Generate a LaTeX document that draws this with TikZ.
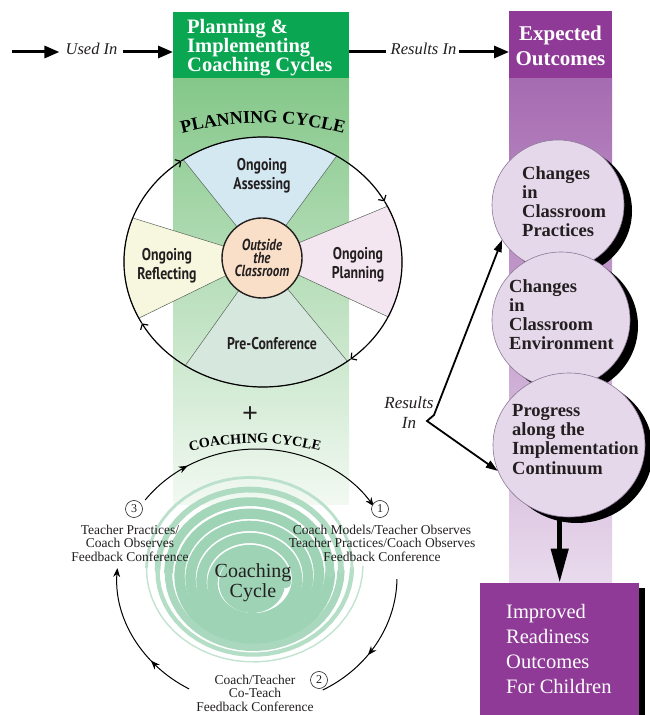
\documentclass[tikz,border=0pt]{standalone}
\usepackage{fontspec}
\setmainfont{Liberation Serif}
\newfontfamily\cond[FakeStretch=0.81]{PT Sans}
\usetikzlibrary{arrows.meta,decorations.text,decorations.markings,shapes.geometric,calc}
\definecolor{gdark}{RGB}{10,166,82}
\definecolor{gtop}{RGB}{132,199,137}
\definecolor{gbot}{RGB}{242,249,242}
\definecolor{pdark}{RGB}{142,58,150}
\definecolor{ptop}{RGB}{166,107,177}
\definecolor{pbot}{RGB}{233,219,237}
\definecolor{lav}{RGB}{230,216,235}
\definecolor{pline}{RGB}{140,120,150}
\definecolor{cassess}{RGB}{212,232,242}
\definecolor{cplan}{RGB}{243,230,240}
\definecolor{cprecon}{RGB}{214,232,222}
\definecolor{creflect}{RGB}{247,246,222}
\definecolor{cinner}{RGB}{249,223,200}
\definecolor{spir}{RGB}{158,211,182}
\definecolor{txt}{RGB}{35,31,32}
\definecolor{wline}{RGB}{90,100,90}
\newcommand\pcfont{\fontsize{18}{18}\selectfont\bfseries}
\newcommand\ccfont{\fontsize{14}{14}\selectfont\bfseries}
\begin{document}
\begin{tikzpicture}[x=1pt,y=1pt,
  bigarr/.style={line width=3pt,-{Triangle[length=15pt,width=12pt]}},
  medarr/.style={line width=1.8pt},
  pcarc/.style={line width=1.2pt,-{Straight Barb[length=4pt,width=9pt]}},
  ccarc/.style={line width=1pt},
  wtxt/.style={align=center,text=txt,inner sep=0,font={\cond\fontsize{17}{19}\selectfont\bfseries}},
  cctxt/.style={align=center,text=txt,inner sep=0,font={\fontsize{13.5}{13.5}\selectfont}},
  pcirc/.style={ellipse,fill=lav,draw=pline,line width=0.6pt,inner sep=0},
  ctxt/.style={anchor=north west,align=left,text=txt,inner sep=0,font={\fontsize{18.5}{19.3}\selectfont\bfseries}},
  numc/.style={circle,draw=txt,line width=0.6pt,fill=white,minimum size=17pt,inner sep=0,text=txt,font={\fontsize{12}{12}\selectfont}},
  hdr/.style={inner sep=0,text=white}
]
\useasboundingbox (0,0) rectangle (649,715);

% ---------- columns ----------
\shade[top color=gtop,bottom color=gbot] (173,210) rectangle (349,637.5);
\node[fill=gdark,anchor=south west,minimum width=176pt,minimum height=66pt,inner sep=0] (ghead) at (173,637) {};
\node[hdr,anchor=north west,align=left,font={\fontsize{20.5}{19}\selectfont\bfseries}] (gtext) at (187,696) {Planning \&\\Implementing\\Coaching Cycles};

\shade[top color=ptop,bottom color=pbot] (509,132) rectangle (612,637.5);
\node[fill=pdark,anchor=south west,minimum width=103pt,minimum height=67pt,inner sep=0] (phead) at (509,637) {};
\node[hdr,anchor=north,align=center,font={\fontsize{21}{25}\selectfont\bfseries}] (ptext) at (560.5,689) {Expected\\Outcomes};

% ---------- top arrows ----------
\coordinate (startL) at (12,663);
\node[inner sep=0,anchor=base,text=txt,font={\fontsize{16.5}{16.5}\selectfont\itshape}] (usedin) at (91.5,660) {Used In};
\node[inner sep=0,anchor=base,text=txt,font={\fontsize{16.5}{16.5}\selectfont\itshape}] (resin) at (423.5,660) {Results In};
\draw[bigarr,shorten >=6pt] (startL) -- (startL -| usedin.west);
\draw[bigarr,shorten <=5pt] (startL -| usedin.east) -- (startL -| ghead.west);
\draw[line width=3pt,shorten >=5pt] (startL -| ghead.east) -- (startL -| resin.west);
\draw[bigarr,shorten <=3pt] (startL -| resin.east) -- (startL -| phead.west);

% ---------- planning cycle ----------
\coordinate (pc) at (263,453);
\coordinate (ic) at (262,457);
\filldraw[fill=cassess,draw=wline,line width=0.5pt] (ic) -- ($(pc)+(58:139 and 125)$) arc[start angle=58,end angle=125,x radius=139,y radius=125] -- cycle;
\filldraw[fill=cplan,draw=wline,line width=0.5pt] (ic) -- ($(pc)+(-26:139 and 125)$) arc[start angle=-26,end angle=26.5,x radius=139,y radius=125] -- cycle;
\filldraw[fill=cprecon,draw=wline,line width=0.5pt] (ic) -- ($(pc)+(-124:139 and 125)$) arc[start angle=-124,end angle=-52.6,x radius=139,y radius=125] -- cycle;
\filldraw[fill=creflect,draw=wline,line width=0.5pt] (ic) -- ($(pc)+(159.4:139 and 125)$) arc[start angle=159.4,end angle=206.7,x radius=139,y radius=125] -- cycle;

\draw[pcarc] ($(pc)+(209.4:139 and 125)$) arc[start angle=209.4,end angle=126,x radius=139,y radius=125];
\draw[pcarc] ($(pc)+(126:139 and 125)$) arc[start angle=126,end angle=29,x radius=139,y radius=125];
\draw[pcarc] ($(pc)+(29:139 and 125)$) arc[start angle=29,end angle=-51,x radius=139,y radius=125];
\draw[pcarc] ($(pc)+(-51:139 and 125)$) arc[start angle=-51,end angle=-150.6,x radius=139,y radius=125];

\node[circle,draw=txt,line width=1.4pt,fill=cinner,minimum size=80pt,inner sep=0,align=center,text=txt,
      font={\cond\fontsize{16}{13}\selectfont\bfseries\itshape}] (inner) at (ic) {Outside\\the\\Classroom};
\node[wtxt] (assess) at (262,539) {Ongoing\\Assessing};
\node[wtxt] (reflect) at (167,449.5) {Ongoing\\Reflecting};
\node[wtxt] (plan) at (358,450) {Ongoing\\Planning};
\node[wtxt] (precon) at (272,371.5) {Pre-Conference};

\path[decorate,decoration={text along path,text align=center,text={|\pcfont|PLANNING CYCLE}}]
  ($(263,279)+(118:313)$) arc[start angle=118,end angle=62,radius=313];

% ---------- coaching cycle ----------
\node[inner sep=0,text=txt,font={\fontsize{28}{28}\selectfont\bfseries}] (plus) at (250,300) {+};
\path[decorate,decoration={text along path,text align=center,text={|\ccfont|COACHING CYCLE}}]
  ($(255,8)+(120:264)$) arc[start angle=120,end angle=60,radius=264];

\fill[spir] (252,132) ellipse[x radius=33,y radius=30];
\foreach \i in {0,...,13}{
  \pgfmathsetmacro\wd{\i<8 ? 10.3 : max(1.4,10.3-1.5*(\i-7))}
  \pgfmathsetmacro\ca{\i*180}
  \pgfmathsetmacro\cb{(\i+1)*180}
  \pgfmathtruncatemacro\cc{\i<8 ? 100 : 100-6*(\i-7)}
  \draw[spir!\cc!white,line width=\wd pt,line cap=round] plot[domain=\ca:\cb,samples=30,variable=\t]
    ({252+(34+\t/360*11)*cos(\t)},{132+\t/360*2.42+0.88*(34+\t/360*11)*sin(\t)});
}
\node[align=center,inner sep=0,text=txt,font={\fontsize{20}{20}\selectfont}] (cctitle) at (253,132.5) {Coaching\\Cycle};

\coordinate (cc) at (257,138);
\draw[ccarc,-{Stealth[length=9pt,width=7pt]},postaction={decorate},
  decoration={markings,mark=at position 0.21 with {\arrow{Stealth[length=9pt,width=7pt]}}}]
  ($(cc)+(143:140 and 128)$) arc[start angle=143,end angle=33.5,x radius=140,y radius=128];
\draw[ccarc,postaction={decorate},
  decoration={markings,mark=at position 0.59 with {\arrow{Stealth[length=9pt,width=7pt]}}}]
  ($(cc)+(-1:140 and 128)$) arc[start angle=-1,end angle=-62,x radius=140,y radius=128];
\draw[ccarc,-{Stealth[length=9pt,width=7pt]},postaction={decorate},
  decoration={markings,mark=at position 0.32 with {\arrow{Stealth[length=9pt,width=7pt]}}}]
  ($(cc)+(241:140 and 128)$) arc[start angle=241,end angle=176,x radius=140,y radius=128];

\node[numc] (n3) at (134,206) {3};
\node[numc] (n1) at (380,206) {1};
\node[numc] (n2) at (319,35) {2};
\node[cctxt] (t3) at (130,172) {Teacher Practices/\\Coach Observes\\Feedback Conference};
\node[cctxt] (t1) at (382,172) {Coach Models/Teacher Observes\\Teacher Practices/Coach Observes\\Feedback Conference};
\node[cctxt] (t2) at (255,22) {Coach/Teacher\\Co-Teach\\Feedback Conference};

% ---------- outcome circles ----------
\fill[black] (566,504) ellipse[x radius=66,y radius=65];
\node[pcirc,minimum width=132pt,minimum height=130pt] (c1) at (558,510) {};
\fill[black] (569,389) ellipse[x radius=69,y radius=68];
\node[pcirc,minimum width=138pt,minimum height=136pt] (c2) at (561,395) {};
\fill[black] (577,264) ellipse[x radius=76,y radius=72];
\node[pcirc,minimum width=152pt,minimum height=144pt] (c3) at (569,270) {};
\node[ctxt] (c1t) at (522,549) {Changes\\in\\Classroom\\Practices};
\node[ctxt] (c2t) at (509,436) {Changes\\in\\Classroom\\Environment};
\node[ctxt] (c3t) at (512,311) {Progress\\along the\\Implementation\\Continuum};

% ---------- results in ----------
\node[align=center,inner sep=0,text=txt,font={\fontsize{17}{20}\selectfont\itshape}] (res2) at (409,302) {Results\\In};
\coordinate (j1) at (434,300);
\coordinate (j2) at (427,294);
\draw[medarr,{Triangle[length=12pt,width=8pt]}-{Triangle[length=12pt,width=8pt]}] (c1.212) -- (j1) -- (j2) -- (c3.200);

% ---------- final box ----------
\fill[black] (639,0) rectangle (645,127);
\node[fill=pdark,anchor=south west,minimum width=159pt,minimum height=132pt,inner sep=0] (fb) at (480,0) {};
\node[hdr,anchor=north west,align=left,font={\fontsize{20.5}{25}\selectfont}] (fbt) at (506,111) {Improved\\Readiness\\Outcomes\\For Children};
\draw[line width=4.5pt,-{Triangle[length=34pt,width=17pt]}] (c3.south -| fb.north) -- (fb.north);
\end{tikzpicture}
\end{document}
